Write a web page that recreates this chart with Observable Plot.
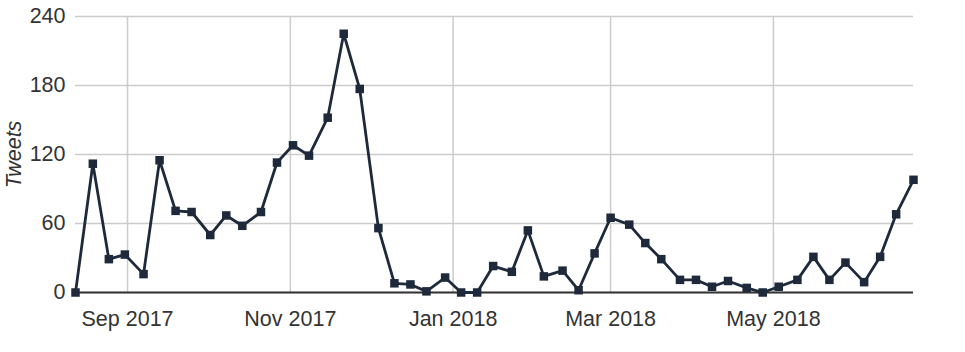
<!DOCTYPE html>
<html>
<head>
<meta charset="utf-8">
<script src="https://cdn.jsdelivr.net/npm/d3@7"></script>
<script src="https://cdn.jsdelivr.net/npm/@observablehq/plot@0.6"></script>
<style>
  html, body { margin: 0; padding: 0; background: #fff; }
  #chart svg { display: block; }
  #chart g[aria-label="y-axis label"] text { font-style: italic; }
</style>
</head>
<body>
<div id="chart"></div>
<script>
const dates = [
  "2017-08-12T12:00","2017-08-19","2017-08-25","2017-08-31","2017-09-07","2017-09-13",
  "2017-09-19","2017-09-25","2017-10-02","2017-10-08","2017-10-14","2017-10-21",
  "2017-10-27","2017-11-02","2017-11-08","2017-11-15","2017-11-21","2017-11-27",
  "2017-12-04","2017-12-10","2017-12-16","2017-12-22","2017-12-29","2018-01-04",
  "2018-01-10","2018-01-16","2018-01-23","2018-01-29","2018-02-04","2018-02-11",
  "2018-02-17","2018-02-23","2018-03-01","2018-03-08","2018-03-14","2018-03-20",
  "2018-03-27","2018-04-02","2018-04-08","2018-04-14","2018-04-21","2018-04-27",
  "2018-05-03","2018-05-10","2018-05-16","2018-05-22","2018-05-28","2018-06-04",
  "2018-06-10","2018-06-16","2018-06-22T12:00"
];
const tweets = [
  0, 112, 29, 33, 16, 115,
  71, 70, 50, 67, 58, 70,
  113, 128, 119, 152, 225, 177,
  56, 8, 7, 1, 13, 0,
  0, 23, 18, 54, 14, 19,
  2, 34, 65, 59, 43, 29,
  11, 11, 5, 10, 4, 0,
  5, 11, 31, 11, 26, 9,
  31, 68, 98
];
const yTicks = [0, 60, 120, 180, 240];
const xTickDates = ["2017-09-01", "2017-11-01", "2018-01-01", "2018-03-01", "2018-05-01"];

const parse = s => new Date(s.length > 10 ? s + ":00Z" : s + "T00:00:00Z");
const data = dates.map((d, i) => ({date: parse(d), value: tweets[i]}));
const xTicks = xTickDates.map(parse);
const ink = "#1e2a3b";
const fmt = d3.utcFormat("%b %Y");

const chart = Plot.plot({
  width: 965,
  height: 352,
  marginLeft: 75,
  marginRight: 52,
  marginTop: 16,
  marginBottom: 60,
  style: {fontFamily: "'Liberation Sans', Arial, Helvetica, sans-serif", fontSize: "21.5px", color: "#333", background: "#fff"},
  x: {type: "utc", domain: [data[0].date, data[data.length - 1].date]},
  y: {domain: [0, 240]},
  marks: [
    Plot.gridY(yTicks, {stroke: "#cccccc", strokeOpacity: 1, strokeWidth: 1.5}),
    Plot.gridX(xTicks, {stroke: "#cccccc", strokeOpacity: 1, strokeWidth: 1.5}),
    Plot.axisY(yTicks, {tickSize: 0, tickPadding: 10, label: "Tweets", labelAnchor: "center", labelArrow: "none", labelOffset: 70, fill: "#333", fontSize: 21.5}),
    Plot.axisX(xTicks, {tickSize: 0, tickPadding: 18, tickFormat: fmt, label: null, fill: "#333", fontSize: 21.5}),
    Plot.ruleY([0], {stroke: "#333", strokeWidth: 2}),
    Plot.line(data, {x: "date", y: "value", stroke: ink, strokeWidth: 2.8}),
    Plot.dot(data, {x: "date", y: "value", symbol: "square", r: 4.8, fill: ink, stroke: "none"})
  ]
});
document.getElementById("chart").appendChild(chart);
</script>
</body>
</html>
